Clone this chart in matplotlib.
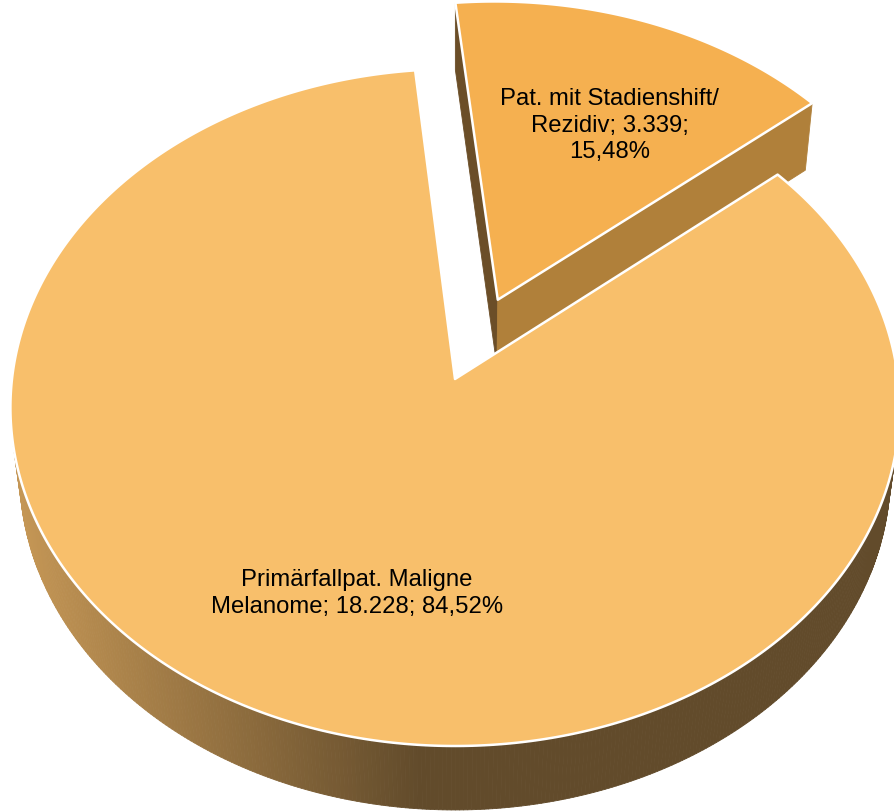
import numpy as np
import matplotlib.pyplot as plt
from matplotlib.collections import PolyCollection
from matplotlib.patches import Polygon

### DATA ###
names = ['Primärfallpat. Maligne\nMelanome', 'Pat. mit Stadienshift/\nRezidiv']
counts = [18228, 3339]
label_breaks = [' ', '\n']          # separator before the percentage
explode = [0.0, 0.26]
top_colors = ['#F8BF6B', '#F5B050']
face_colors = [('#6B4E28', '#6B4E28'), ('#B0803A', '#6B4E28')]   # (start face, end face)
wall_light = np.array([196, 150, 85]) / 255
wall_dark = np.array([98, 75, 43]) / 255
start_angle = 95.6

### PROJECTION OF THE PIE PLANE ###
CX, CY = 455.0, 380.0
RX, RY = 443.0, -336.1
K = 0.0842
VY = 3600.0      # vanishing point of vertical edges
TAU = 0.021      # pie thickness
GY = (VY - CY) / (RY - (VY - CY) * K)   # camera position on the pie plane
LABEL_R = 0.635
LABEL_SHIFT = (14, 6)


def project(X, Y, bottom=False):
    X = np.asarray(X, float)
    Y = np.asarray(Y, float)
    w = 1 + K * Y
    xh = CX * w + RX * X
    yh = CY * w + RY * Y
    if bottom:
        xh = xh + TAU * CX
        yh = yh + TAU * VY
        w = w + TAU
    return xh / w, yh / w


def facing(nx, ny, px, py):
    return nx * (0 - px) + ny * (GY - py) > 0


def wall_color(x):
    s = np.clip((x - 20) / 400, 0, 1)
    return tuple(wall_light * (1 - s) + wall_dark * s)


def fmt_count(n):
    return f'{n:,}'.replace(',', '.')


def fmt_pct(p):
    return f'{p:.2f}'.replace('.', ',') + '%'


### SLICE GEOMETRY ###
total = sum(counts)
fracs = [c / total for c in counts]
bounds = start_angle + 360 * np.concatenate([[0], np.cumsum(fracs)])

fig = plt.figure(figsize=(8.95, 8.12), dpi=100)
ax = fig.add_axes([0, 0, 1, 1])
ax.set_xlim(0, 895)
ax.set_ylim(812, 0)
ax.axis('off')

slices = []
for i in range(len(counts)):
    a1, a2 = np.radians(bounds[i]), np.radians(bounds[i + 1])
    mid = (a1 + a2) / 2
    ox, oy = explode[i] * np.cos(mid), explode[i] * np.sin(mid)
    slices.append((i, a1, a2, mid, ox, oy))

# back slices first
for i, a1, a2, mid, ox, oy in sorted(slices, key=lambda s: -s[5]):
    t = np.linspace(a1, a2, max(int(np.degrees(a2 - a1) * 2), 8))
    rx, ry = ox + np.cos(t), oy + np.sin(t)
    tx, ty = project(rx, ry)
    bx, by = project(rx, ry, bottom=True)

    faces = []
    # outer wall
    for j in range(len(t) - 1):
        tm = (t[j] + t[j + 1]) / 2
        nx, ny = np.cos(tm), np.sin(tm)
        if not facing(nx, ny, ox + nx, oy + ny):
            continue
        quad = [(tx[j], ty[j]), (tx[j + 1], ty[j + 1]),
                (bx[j + 1], by[j + 1]), (bx[j], by[j])]
        faces.append((oy + ny, quad, wall_color((tx[j] + tx[j + 1]) / 2)))

    # cut faces
    apx_t = project(ox, oy)
    apx_b = project(ox, oy, bottom=True)
    for ang, nang, k, col in [(a1, a1 - np.pi / 2, 0, face_colors[i][0]),
                              (a2, a2 + np.pi / 2, -1, face_colors[i][1])]:
        if not facing(np.cos(nang), np.sin(nang), ox, oy):
            continue
        quad = [apx_t, (tx[k], ty[k]), (bx[k], by[k]), apx_b]
        faces.append((oy + 0.5 * np.sin(ang), quad, col))

    faces.sort(key=lambda f: -f[0])
    if faces:
        pc = PolyCollection([f[1] for f in faces],
                            facecolors=[f[2] for f in faces],
                            edgecolors=[f[2] for f in faces], linewidths=0.6)
        ax.add_collection(pc)

    # top surface
    top_pts = np.column_stack([np.r_[apx_t[0], tx], np.r_[apx_t[1], ty]])
    ax.add_patch(Polygon(top_pts, closed=True, facecolor=top_colors[i],
                         edgecolor='white', linewidth=1.8, joinstyle='round'))

    # data label
    lx, ly = project(ox + LABEL_R * np.cos(mid), oy + LABEL_R * np.sin(mid))
    text = f'{names[i]}; {fmt_count(counts[i])};{label_breaks[i]}{fmt_pct(100 * fracs[i])}'
    ax.text(lx + LABEL_SHIFT[0], ly + LABEL_SHIFT[1], text, ha='center', va='center',
            fontsize=17.2, family='Liberation Sans', color='black', linespacing=1.27)

fig.savefig('out.png', dpi=100)
